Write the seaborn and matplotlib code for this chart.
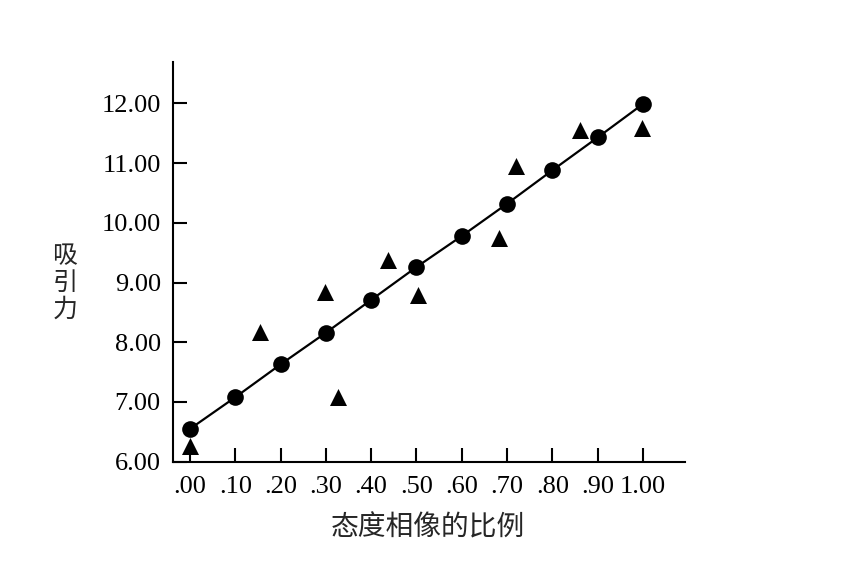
import numpy as np
import pandas as pd
import seaborn as sns
import matplotlib.pyplot as plt

# dados
proporcao = [0.0, 0.1, 0.2, 0.3, 0.4, 0.5, 0.6, 0.7, 0.8, 0.9, 1.0]
atracao_prevista = [6.55, 7.08, 7.63, 8.16, 8.71, 9.26, 9.78, 10.32, 10.88, 11.43, 11.99]

prop_obs = [0.0, 0.155, 0.298, 0.327, 0.437, 0.503, 0.682, 0.719, 0.861, 0.997]
atracao_obs = [6.26, 8.18, 8.85, 7.09, 9.38, 8.80, 9.75, 10.95, 11.56, 11.59]

x_ticks = [0.0, 0.1, 0.2, 0.3, 0.4, 0.5, 0.6, 0.7, 0.8, 0.9, 1.0]
x_labels = ['.00', '.10', '.20', '.30', '.40', '.50', '.60', '.70', '.80', '.90', '1.00']
y_ticks = [6, 7, 8, 9, 10, 11, 12]
y_labels = ['6.00', '7.00', '8.00', '9.00', '10.00', '11.00', '12.00']

prev = pd.DataFrame({'x': proporcao, 'y': atracao_prevista})
obs = pd.DataFrame({'x': prop_obs, 'y': atracao_obs})

sns.set_style('ticks')
plt.rcParams['font.family'] = ['Liberation Serif', 'Noto Sans CJK SC', 'DejaVu Sans']

fig = plt.figure(figsize=(8.44, 5.70), dpi=100)
ax = fig.add_axes([0.2053, 0.19, 0.6063, 0.7018])

sns.lineplot(data=prev, x='x', y='y', ax=ax, color='black', linewidth=1.6,
             marker='o', markersize=12, markeredgewidth=0)
sns.scatterplot(data=obs, x='x', y='y', ax=ax, color='black', marker='^',
                s=150, linewidth=0)

ax.set_xlim(-0.037, 1.093)
ax.set_ylim(6.0, 12.70)
ax.set_xticks(x_ticks, x_labels)
ax.set_yticks(y_ticks, y_labels)

for s in ['top', 'right']:
    ax.spines[s].set_visible(False)
for s in ['left', 'bottom']:
    ax.spines[s].set_linewidth(1.5)
    ax.spines[s].set_color('black')

ax.tick_params(axis='both', direction='in', length=10, width=1.5,
               labelsize=19, colors='black')
ax.tick_params(axis='x', pad=10.5)
ax.tick_params(axis='y', pad=9)

ax.set_xlabel('态度相像的比例', fontsize=20, family=['Noto Sans CJK SC'])
ax.xaxis.set_label_coords(0.498, -0.128)
ax.set_ylabel('吸\n引\n力', fontsize=18, family=['Noto Sans CJK SC'],
              rotation=0, va='center', ha='center', linespacing=1.05)
ax.yaxis.set_label_coords(-0.212, 0.447)

fig.savefig('out.png', dpi=100, facecolor='white')
